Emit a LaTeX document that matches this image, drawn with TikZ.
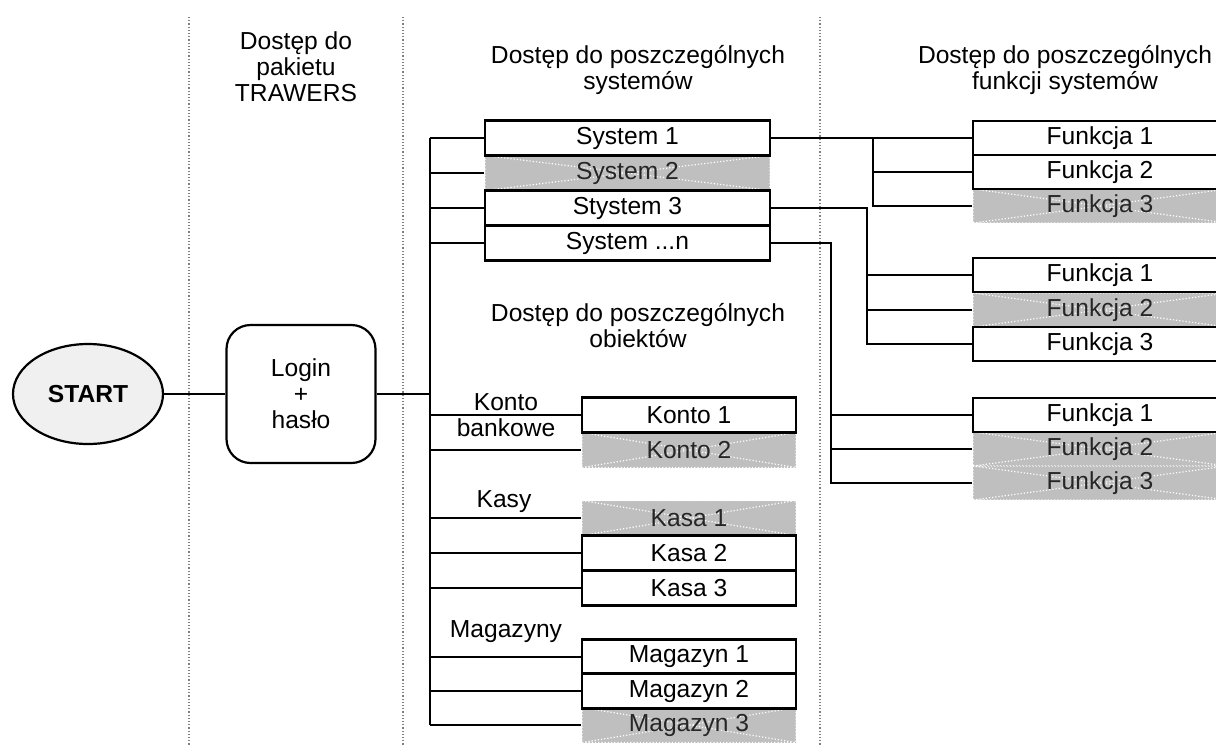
\documentclass[tikz,border=0pt]{standalone}
\usepackage{fontspec}
\setmainfont{Liberation Sans}
\usetikzlibrary{shapes.geometric}

\begin{document}
\begin{tikzpicture}[
    x = 0.5pt, y = -0.5pt,
    font = \fontsize{12.3}{13}\selectfont,
    line width = 1.1pt,
    every node/.style = {inner sep = 0pt, align = center},
    colsep/.style = {draw = gray, densely dotted, line width = 0.6pt},
    access/.style = {draw = black, fill = white},
    noaccess/.style = {fill = gray!50, text = black!85,
        path picture = {
            \draw[white, densely dotted, line width = 0.6pt]
                (path picture bounding box.north west) -- (path picture bounding box.south east)
                (path picture bounding box.south west) -- (path picture bounding box.north east)
                (path picture bounding box.north west) rectangle (path picture bounding box.south east);}},
    sysbox/.style = {minimum width = 142.5pt, minimum height = 17.5pt},
    objbox/.style = {minimum width = 107pt, minimum height = 17.5pt},
    funbox/.style = {minimum width = 127pt, minimum height = 17pt}]

\clip (0,0) rectangle (1216,745);

% column separators
\draw[colsep] (189,17) -- (189,745);
\draw[colsep] (403,17) -- (403,745);
\draw[colsep] (820,17) -- (820,745);

% headers
\node (hpak) at (296,67) {Dostęp do\\pakietu\\TRAWERS};
\node (hsys) at (638,70) {Dostęp do poszczególnych\\systemów};
\node (hfun) at (1065,70) {Dostęp do poszczególnych\\funkcji systemów};
\node (hobj) at (638,326) {Dostęp do poszczególnych\\obiektów};

% start and login
\node[ellipse, draw, fill = gray!12, minimum width = 75pt, minimum height = 50pt,
      font = \fontsize{12.3}{13}\selectfont\bfseries] (start) at (88,394) {START};
\node[draw, rounded corners = 12pt, minimum width = 74.5pt, minimum height = 69pt,
      align = center] (login) at (301,394) {Login\\+\\hasło};

% crossed-out boxes (no access) first
\node[noaccess, sysbox] (sys2) at (627.5,173) {System 2};
\node[noaccess, objbox] (kon2) at (689,450) {Konto 2};
\node[noaccess, objbox] (kas1) at (689,518) {Kasa 1};
\node[noaccess, objbox] (mag3) at (689,725) {Magazyn 3};
\node[noaccess, funbox] (fa3) at (1100,206) {Funkcja 3};
\node[noaccess, funbox] (fb2) at (1100,310) {Funkcja 2};
\node[noaccess, funbox] (fc2) at (1100,449) {Funkcja 2};
\node[noaccess, funbox] (fc3) at (1100,483) {Funkcja 3};

% systems
\node[access, sysbox] (sys1) at (627.5,138) {System 1};
\node[access, sysbox] (sys3) at (627.5,208) {Stystem 3};
\node[access, sysbox] (sys4) at (627.5,243) {System ...n};

% objects
\node (lkon) at (506,415) {Konto\\bankowe};
\node[access, objbox] (kon1) at (689,415) {Konto 1};
\node (lkas) at (504,502) {Kasy};
\node[access, objbox] (kas2) at (689,553) {Kasa 2};
\node[access, objbox] (kas3) at (689,588) {Kasa 3};
\node (lmag) at (506,632) {Magazyny};
\node[access, objbox] (mag1) at (689,657) {Magazyn 1};
\node[access, objbox] (mag2) at (689,691) {Magazyn 2};

% functions
\node[access, funbox] (fa1) at (1100,138) {Funkcja 1};
\node[access, funbox] (fa2) at (1100,172) {Funkcja 2};
\node[access, funbox] (fb1) at (1100,275) {Funkcja 1};
\node[access, funbox] (fb3) at (1100,344) {Funkcja 3};
\node[access, funbox] (fc1) at (1100,415) {Funkcja 1};

% connectors
\coordinate (hub) at (430,394);
\coordinate (ja) at (873,0);
\coordinate (jb) at (867,0);
\coordinate (jc) at (831,0);

\draw (start) -- (login) -- (hub);
\draw[line width = 1.4pt] (hub |- sys1) -- (hub |- mag3);
\foreach \n in {sys1,sys2,sys3,sys4,kon1,kon2,kas1,kas2,kas3,mag1,mag2,mag3}
    \draw (hub |- \n) -- (\n.west);

\draw (sys1.east) -- (fa1.west);
\draw (ja |- fa1) |- (fa3.west);
\draw (ja |- fa2) -- (fa2.west);

\draw (sys3.east) -| (jb |- fb3) -- (fb3.west);
\foreach \n in {fb1,fb2}
    \draw (jb |- \n) -- (\n.west);

\draw (sys4.east) -| (jc |- fc3) -- (fc3.west);
\foreach \n in {fc1,fc2}
    \draw (jc |- \n) -- (\n.west);
\end{tikzpicture}
\end{document}
